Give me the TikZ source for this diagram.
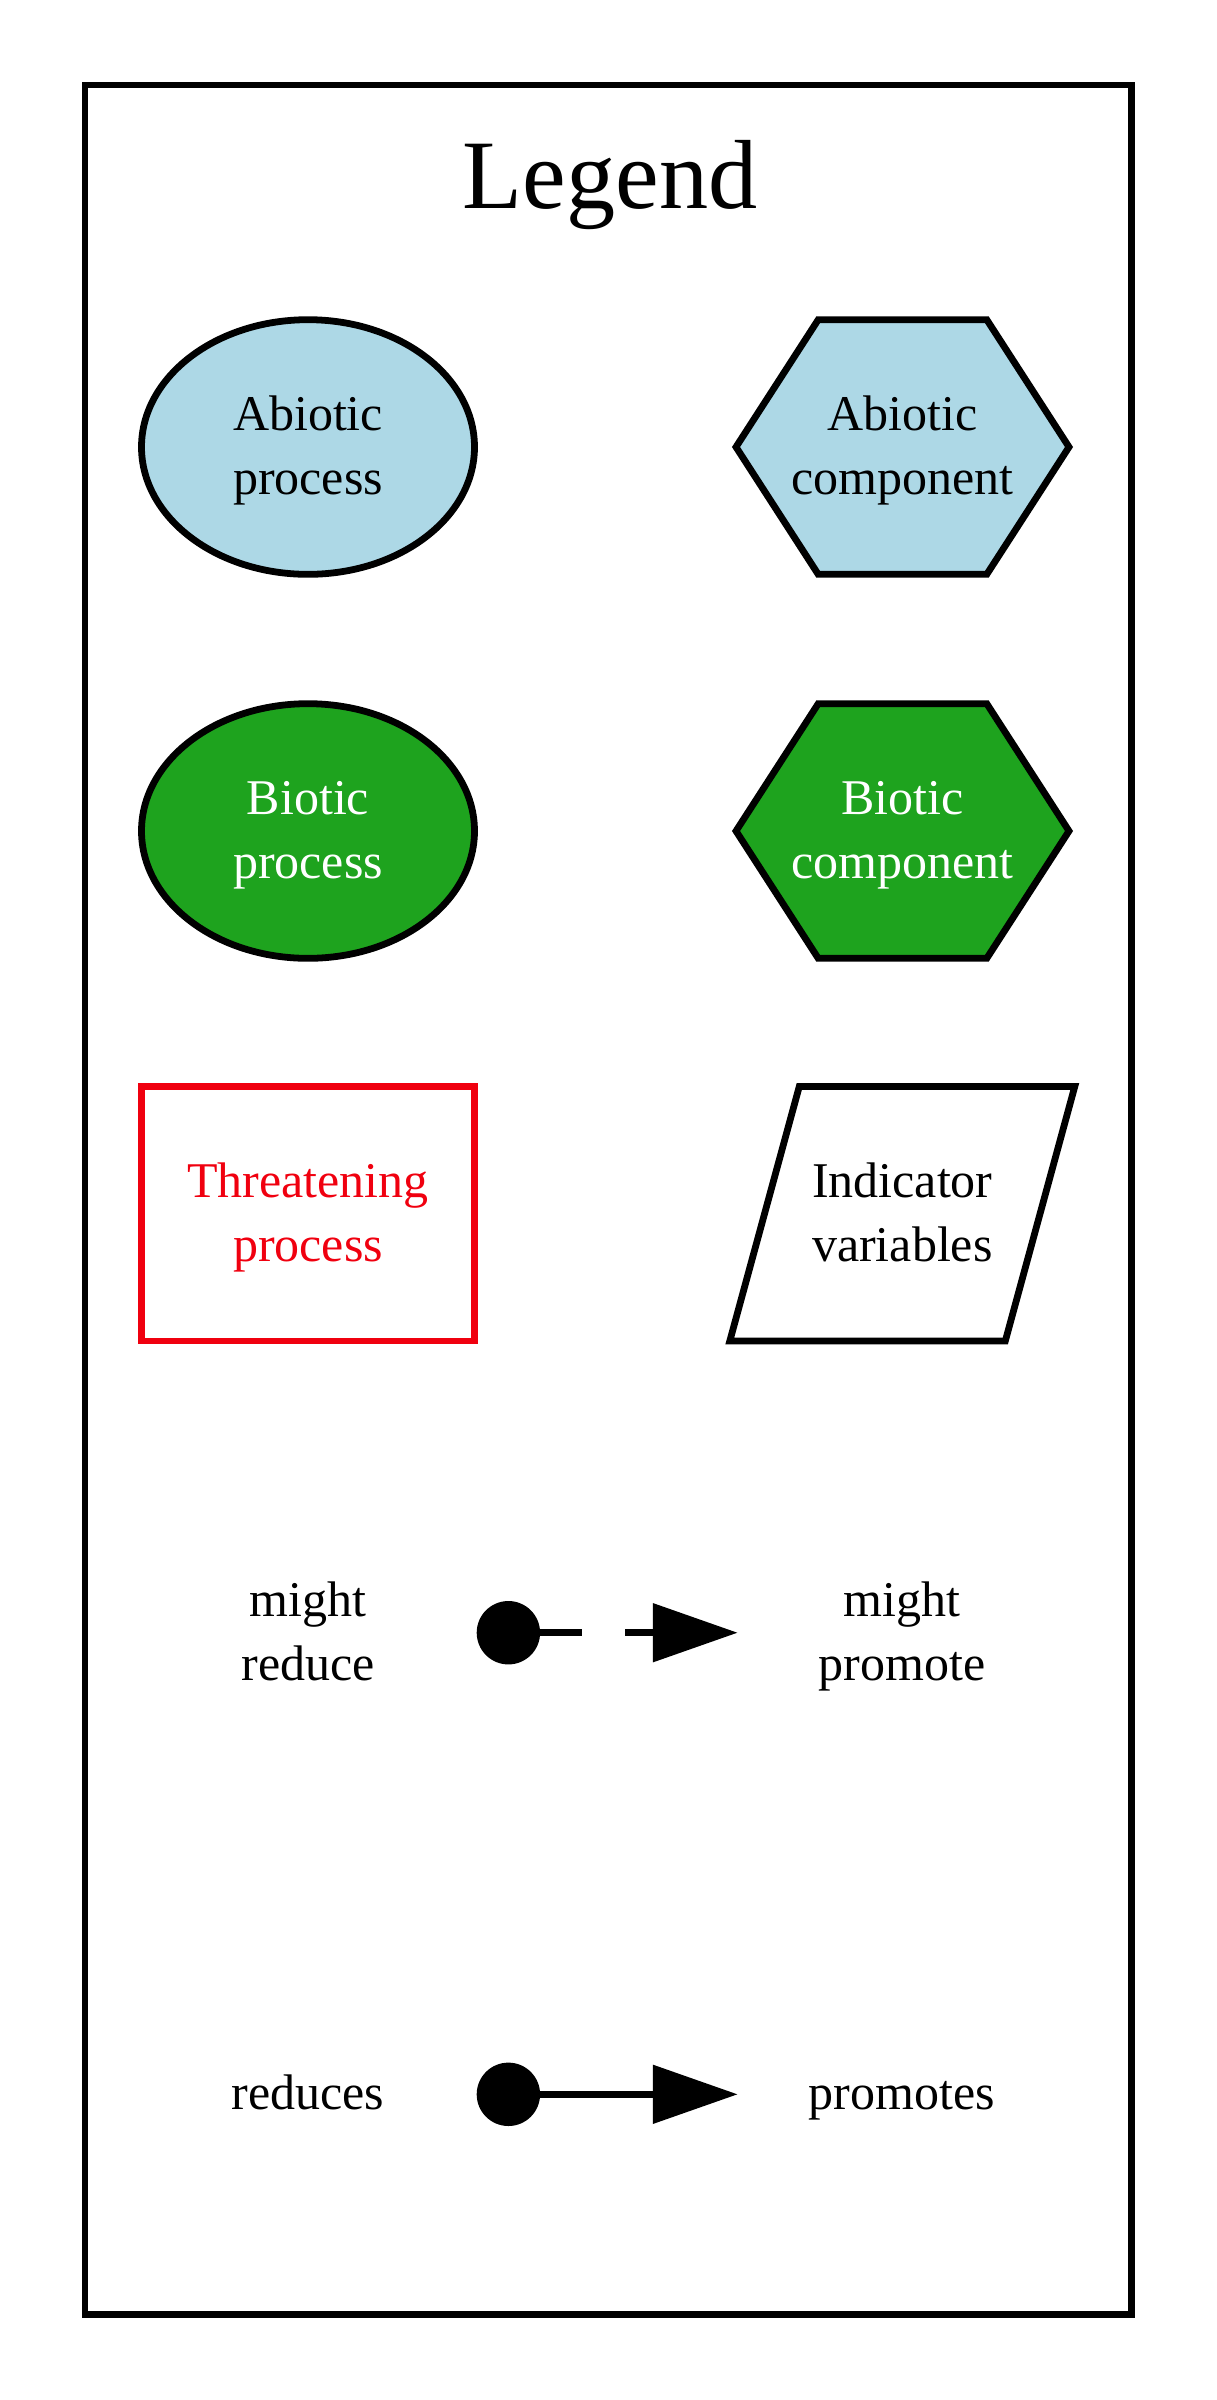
\documentclass[tikz,border=0pt]{standalone}
\usepackage{fontspec}
\setmainfont{Liberation Serif}
\usetikzlibrary{shapes.geometric,arrows.meta}
\definecolor{abio}{HTML}{ADD8E6}
\definecolor{bio}{RGB}{30,163,30}
\definecolor{threat}{RGB}{240,0,15}
\begin{document}
\begin{tikzpicture}[x=0.28pt,y=-0.28pt,
  lw/.style={line width=1.9pt},
  box/.style={inner sep=0pt, outer sep=0pt, minimum width=93.24pt, minimum height=71.3pt},
  procshape/.style={box, ellipse, draw, lw},
  threatshape/.style={box, rectangle, draw=threat, lw},
  plainbox/.style={box, draw=none},
  polyline/.style={lw, line join=miter},
  lbl/.style={anchor=base, inner sep=0pt, font=\fontsize{14}{17}\selectfont},
  titlelbl/.style={anchor=base, inner sep=0pt, font=\fontsize{27.5}{33}\selectfont},
  edgeline/.style={line width=1.9pt, line cap=butt},
  tips/.style={{Circle[length=17.75pt, line width=0pt]}-{Triangle[length=23.66pt, width=16.63pt, line width=0pt]}}
]
\useasboundingbox (0,0) rectangle (1216,2400);

% frame
\node[draw, lw, inner sep=0pt, outer sep=0pt, minimum width=293.02pt, minimum height=624.26pt] (legendframe) at (608.25,1199.75) {};
\node[titlelbl] (title) at (610,208.3) {Legend};

% row 1
\node[procshape, fill=abio] (ap) at (308,447) {};
\node[lbl] (ap1) at ([yshift=4.62pt]ap.center) {Abiotic};
\node[lbl] (ap2) at ([yshift=-13.3pt]ap.center) {process};

\node[plainbox] (ac) at (902.5,447) {};
\draw[polyline, fill=abio, shift={(ac.center)}] (-166.5,0) -- (-84.3,-127.3) -- (84.3,-127.3) -- (166.5,0) -- (84.3,127.3) -- (-84.3,127.3) -- cycle;
\node[lbl] (ac1) at ([yshift=4.62pt]ac.center) {Abiotic};
\node[lbl] (ac2) at ([yshift=-13.3pt]ac.center) {component};

% row 2
\node[procshape, fill=bio] (bp) at (308,831) {};
\node[lbl, text=white] (bp1) at ([yshift=4.62pt]bp.center) {Biotic};
\node[lbl, text=white] (bp2) at ([yshift=-13.3pt]bp.center) {process};

\node[plainbox] (bc) at (902.5,831) {};
\draw[polyline, fill=bio, shift={(bc.center)}] (-166.5,0) -- (-84.3,-127.3) -- (84.3,-127.3) -- (166.5,0) -- (84.3,127.3) -- (-84.3,127.3) -- cycle;
\node[lbl, text=white] (bc1) at ([yshift=4.62pt]bc.center) {Biotic};
\node[lbl, text=white] (bc2) at ([yshift=-13.3pt]bc.center) {component};

% row 3
\node[threatshape] (tp) at (308,1213.7) {};
\node[lbl, text=threat] (tp1) at ([yshift=4.62pt]tp.center) {Threatening};
\node[lbl, text=threat] (tp2) at ([yshift=-13.3pt]tp.center) {process};

\node[plainbox] (iv) at (902.3,1213.7) {};
\draw[polyline, shift={(iv.center)}] (-103,-127.3) -- (172.5,-127.3) -- (103,127.3) -- (-172.5,127.3) -- cycle;
\node[lbl] (iv1) at ([yshift=4.62pt]iv.center) {Indicator};
\node[lbl] (iv2) at ([yshift=-13.3pt]iv.center) {variables};

% might reduce / might promote
\node[plainbox, minimum width=94.47pt] (mr) at (308,1632.7) {};
\node[lbl] (mr1) at ([yshift=4.62pt]mr.center) {might};
\node[lbl] (mr2) at ([yshift=-13.3pt]mr.center) {reduce};
\node[plainbox, minimum width=92.23pt] (mp) at (902,1632.7) {};
\node[lbl] (mp1) at ([yshift=4.62pt]mp.center) {might};
\node[lbl] (mp2) at ([yshift=-13.3pt]mp.center) {promote};
\draw[edgeline, tips, dash pattern=on 11.76pt off 12.04pt] (mr.east) -- (mp.west);

% reduces / promotes
\node[plainbox, minimum width=94.47pt] (rd) at (308,2094.3) {};
\node[lbl] (rd1) at ([yshift=-4.2pt]rd.center) {reduces};
\node[plainbox, minimum width=92.23pt] (pm) at (902,2094.3) {};
\node[lbl] (pm1) at ([yshift=-4.2pt]pm.center) {promotes};
\draw[edgeline, tips] (rd.east) -- (pm.west);
\end{tikzpicture}
\end{document}
